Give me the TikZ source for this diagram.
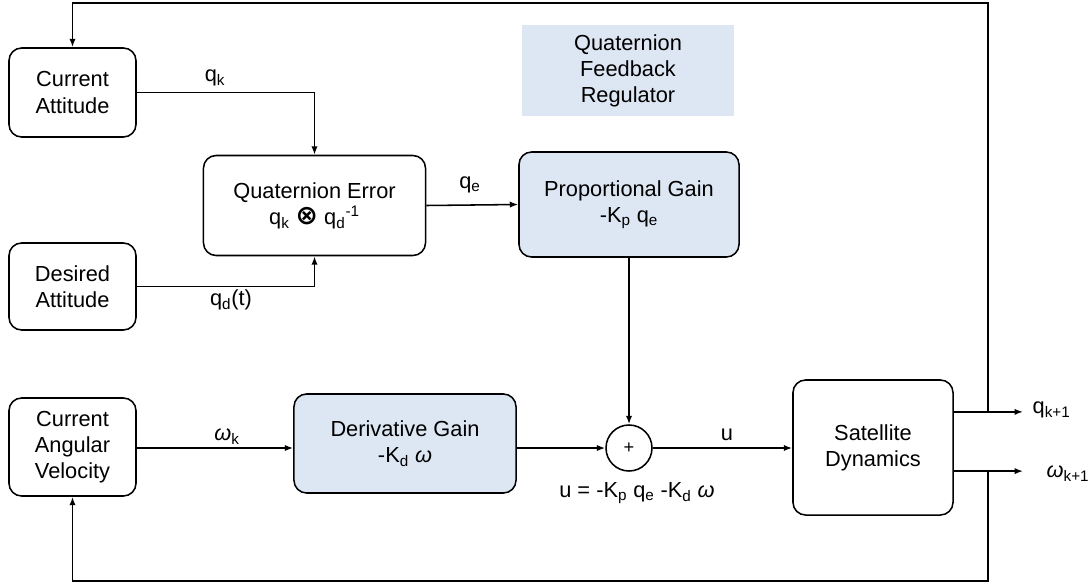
\documentclass[tikz,border=0pt]{standalone}
\usepackage{fontspec}
\setmainfont{Liberation Sans}
\newfontfamily\symbfont{DejaVu Sans}
\usepackage{tikz}
\usetikzlibrary{
  arrows.meta,
  positioning,
  calc
}
\definecolor{gainblue}{RGB}{221,231,243}
\newcommand{\blockfont}{\fontsize{15.5}{18.5}\selectfont}
\newcommand{\omg}{\textit{ω}}
\tikzset{
  arrow/.style    = {-{Latex[length=6pt, width=4.5pt]}, line width=1.1pt},
  block/.style    = {draw, rounded corners=9pt, line width=1.1pt,
                     align=center, font=\blockfont},
  gblock/.style   = {block, fill=gainblue},
  sumnode/.style  = {draw, circle, minimum size=1.15cm, inner sep=0pt,
                     line width=1.1pt, font=\fontsize{13}{15}\selectfont},
  siglabel/.style = {font=\blockfont, inner sep=1pt},
}

\begin{document}
\begin{tikzpicture}[x=0.025cm, y=-0.025cm]
\useasboundingbox (0,0) rectangle (1089,586);

% ========== inputs ==========
\node[block, minimum width=3.175cm, minimum height=2.225cm] (catt) at (72.5,92.5)
  {Current\\Attitude};
\node[block, minimum width=3.175cm, minimum height=2.175cm] (datt) at (72.5,286.5)
  {Desired\\Attitude};
\node[block, minimum width=3.175cm, minimum height=2.45cm] (cvel) at (72.5,447)
  {Current\\Angular\\Velocity};

% ========== regulator ==========
\node[fill=gainblue, minimum width=5.3cm, minimum height=2.275cm, align=center,
  font=\blockfont] (title) at (628,70.5) {Quaternion\\Feedback\\Regulator};

\node[block, minimum width=5.55cm, minimum height=2.5cm] (qerr) at (314.5,205.5)
  {Quaternion Error\\q\textsubscript{k} {\symbfont\fontsize{19}{18.5}\selectfont\bfseries ⊗} q\textsubscript{d}\textsuperscript{-1}};
\node[gblock, minimum width=5.5cm, minimum height=2.625cm] (pgain) at (629,204.5)
  {Proportional Gain\\-K\textsubscript{p} q\textsubscript{e}};
\node[gblock, minimum width=5.55cm, minimum height=2.475cm] (dgain) at (405,443.5)
  {Derivative Gain\\-K\textsubscript{d} \omg};
\node[sumnode] (sum) at (629,448) {+};
\node[block, minimum width=4cm, minimum height=3.375cm] (sat) at (873,447.5)
  {Satellite\\Dynamics};

% ========== signals ==========
\draw[arrow] (catt.east) -| (qerr.north);
\draw[arrow] (datt.east) -| (qerr.south);
\draw[arrow] (qerr.east) -- (pgain.west);
\draw[arrow] (pgain.south) -- (sum.north);
\draw[arrow] (cvel.east |- sum.west) -- (dgain.west |- sum.west);
\draw[arrow] (dgain.east |- sum.west) -- (sum.west);
\draw[arrow] (sum.east) -- (sum.east -| sat.west);

\coordinate (qout) at ([yshift=0.89cm]sat.east);
\coordinate (wout) at ([yshift=-0.59cm]sat.east);
\coordinate (qend) at (1023,0 |- qout);
\coordinate (wend) at (1023,0 |- wout);
\draw[arrow] (qout) -- (qend);
\draw[arrow] (wout) -- (wend);

% feedback loops
\coordinate (qtap) at (988,0 |- qout);
\coordinate (wtap) at (988,0 |- wout);
\draw[arrow] (qtap) -- (988,3) -| (catt.north);
\draw[arrow] (wtap) -- (988,581) -| (cvel.south);

% ========== labels ==========
\node[siglabel] (lqk) at (215,78) {q\textsubscript{k}};
\node[siglabel] (lqd) at (231,300) {q\textsubscript{d}(t)};
\node[siglabel] (lqe) at (470,185) {q\textsubscript{e}};
\node[siglabel] (lwk) at (227,437) {\omg\textsubscript{k}};
\node[siglabel] (lu) at (727,435) {u};
\node[siglabel] (lulaw) at (637,493)
  {u = -K\textsubscript{p} q\textsubscript{e} -K\textsubscript{d} \omg};
\node[siglabel, anchor=west] (lqnext) at (1031,410) {q\textsubscript{k+1}};
\node[siglabel, anchor=west] (lwnext) at (1045,474) {\omg\textsubscript{k+1}};

\end{tikzpicture}
\end{document}
